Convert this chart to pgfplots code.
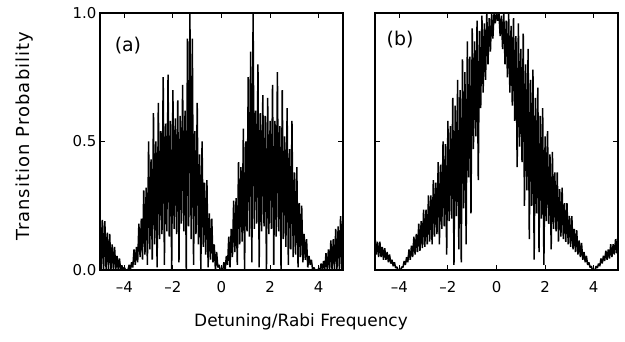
\documentclass[border=0pt]{standalone}
\usepackage{pgfplots}
\pgfplotsset{compat=1.18}
\usepackage{fontspec}
\setmainfont{DejaVu Sans}
\newfontfamily\ylabfont[LetterSpace=6]{DejaVu Sans}
\begin{document}
\begin{tikzpicture}
\useasboundingbox (0bp,0bp) rectangle (625bp,342bp);
\pgfplotsset{
 panel/.style={
  width=243bp, height=257bp, scale only axis,
  xmin=-5, xmax=5, ymin=0, ymax=1,
  xtick={-4,-2,0,2,4}, xticklabels={–4,–2,0,2,4},
  ytick={0,0.5,1},
  tick align=inside, major tick length=5bp,
  axis line style={line width=1.4bp},
  major tick style={black, line width=1.1bp},
  tick label style={font=\fontsize{15}{15}\selectfont},
  xticklabel style={yshift=-8bp},
  /pgf/number format/assume math mode=true,
 }
}
\begin{axis}[panel, at={(100bp,72bp)}, anchor=south west, yticklabels={0.0,0.5,1.0}]
\addplot[black, line width=1.5bp, line join=bevel] coordinates {
(-5.00,0.24) (-4.95,0) (-4.90,0.195) (-4.85,0) (-4.80,0.19) (-4.75,0) (-4.70,0.145) (-4.65,0) (-4.60,0.14) (-4.55,0) (-4.50,0.10) (-4.45,0) (-4.40,0.09) (-4.35,0) (-4.30,0.055) (-4.25,0) (-4.20,0.045) (-4.15,0) (-4.10,0.018) (-4.05,0) (-4.00,0.01) (-3.95,0) (-3.90,0) (-3.85,0) (-3.80,0.02) (-3.75,0) (-3.70,0.03) (-3.65,0.01) (-3.60,0.08) (-3.55,0.02) (-3.50,0.09) (-3.45,0.03) (-3.40,0.18) (-3.35,0.05) (-3.30,0.2) (-3.25,0.04) (-3.20,0.31) (-3.15,0.06) (-3.10,0.32) (-3.05,0.02) (-3.00,0.5) (-2.95,0.08) (-2.90,0.43) (-2.85,0.04) (-2.80,0.61) (-2.75,0.1) (-2.70,0.5) (-2.65,0.01) (-2.60,0.65) (-2.55,0.12) (-2.50,0.54) (-2.45,0.14) (-2.40,0.75) (-2.35,0.02) (-2.30,0.57) (-2.25,0.15) (-2.20,0.76) (-2.15,0.13) (-2.10,0.58) (-2.05,0) (-2.00,0.7) (-1.95,0.16) (-1.90,0.59) (-1.85,0.14) (-1.80,0.66) (-1.75,0.03) (-1.70,0.6) (-1.65,0.18) (-1.60,0.72) (-1.55,0.15) (-1.50,0.62) (-1.45,0) (-1.40,0.9) (-1.35,0.17) (-1.30,1.0) (-1.25,0.12) (-1.20,0.9) (-1.15,0.02) (-1.10,0.54) (-1.05,0.14) (-1.00,0.65) (-0.95,0.1) (-0.90,0.45) (-0.85,0) (-0.80,0.5) (-0.75,0.09) (-0.70,0.34) (-0.65,0.06) (-0.60,0.35) (-0.55,0.01) (-0.50,0.22) (-0.45,0.04) (-0.40,0.2) (-0.35,0.03) (-0.30,0.1) (-0.25,0) (-0.20,0.07) (-0.15,0.01) (-0.10,0.02) (-0.05,0) (0.00,0)
(0.05,0) (0.10,0.03) (0.15,0) (0.20,0.055) (0.25,0.02) (0.30,0.13) (0.35,0.01) (0.40,0.16) (0.45,0.05) (0.50,0.27) (0.55,0.07) (0.60,0.28) (0.65,0.02) (0.70,0.42) (0.75,0.1) (0.80,0.4) (0.85,0.11) (0.90,0.55) (0.95,0) (1.00,0.5) (1.05,0.15) (1.10,0.75) (1.15,0.13) (1.20,0.85) (1.25,0.03) (1.30,1.0) (1.35,0.16) (1.40,0.62) (1.45,0.18) (1.50,0.8) (1.55,0.01) (1.60,0.61) (1.65,0.15) (1.70,0.68) (1.75,0.17) (1.80,0.6) (1.85,0) (1.90,0.67) (1.95,0.14) (2.00,0.58) (2.05,0.16) (2.10,0.72) (2.15,0.02) (2.20,0.58) (2.25,0.13) (2.30,0.77) (2.35,0.15) (2.40,0.56) (2.45,0) (2.50,0.7) (2.55,0.12) (2.60,0.52) (2.65,0.09) (2.70,0.63) (2.75,0.02) (2.80,0.47) (2.85,0.08) (2.90,0.58) (2.95,0.05) (3.00,0.38) (3.05,0.06) (3.10,0.4) (3.15,0.01) (3.20,0.26) (3.25,0.05) (3.30,0.25) (3.35,0.03) (3.40,0.14) (3.45,0.04) (3.50,0.12) (3.55,0.01) (3.60,0.055) (3.65,0.02) (3.70,0.04) (3.75,0) (3.80,0.01) (3.85,0) (3.90,0) (3.95,0) (4.00,0.005) (4.05,0) (4.10,0.025) (4.15,0) (4.20,0.035) (4.25,0) (4.30,0.065) (4.35,0) (4.40,0.08) (4.45,0) (4.50,0.115) (4.55,0) (4.60,0.12) (4.65,0) (4.70,0.16) (4.75,0) (4.80,0.17) (4.85,0) (4.90,0.21) (4.95,0) (5.00,0.24)
};
\node[font=\fontsize{19}{19}\selectfont] at (axis cs:-3.85,0.875) {(a)};
\end{axis}
\begin{axis}[panel, at={(375bp,72bp)}, anchor=south west, yticklabels={}]
\addplot[black, line width=1.5bp, line join=bevel] coordinates {
(-5.00,0.13) (-4.95,0.06) (-4.90,0.11) (-4.85,0.05) (-4.80,0.11) (-4.75,0.05) (-4.70,0.09) (-4.65,0.04) (-4.60,0.085) (-4.55,0.04) (-4.50,0.07) (-4.45,0.03) (-4.40,0.06) (-4.35,0.025) (-4.30,0.04) (-4.25,0.015) (-4.20,0.03) (-4.15,0.008) (-4.10,0.012) (-4.05,0) (-4.00,0) (-3.95,0) (-3.90,0.012) (-3.85,0.01) (-3.80,0.035) (-3.75,0.02) (-3.70,0.05) (-3.65,0.03) (-3.60,0.08) (-3.55,0.04) (-3.50,0.095) (-3.45,0.05) (-3.40,0.13) (-3.35,0.06) (-3.30,0.14) (-3.25,0.07) (-3.20,0.18) (-3.15,0.075) (-3.10,0.19) (-3.05,0.085) (-3.00,0.235) (-2.95,0.09) (-2.90,0.235) (-2.85,0.1) (-2.80,0.29) (-2.75,0.11) (-2.70,0.29) (-2.65,0.1) (-2.60,0.35) (-2.55,0.13) (-2.50,0.34) (-2.45,0.14) (-2.40,0.42) (-2.35,0.1) (-2.30,0.41) (-2.25,0.16) (-2.20,0.5) (-2.15,0.17) (-2.10,0.49) (-2.05,0.06) (-2.00,0.58) (-1.95,0.19) (-1.90,0.56) (-1.85,0.2) (-1.80,0.67) (-1.75,0.02) (-1.70,0.64) (-1.65,0.21) (-1.60,0.74) (-1.55,0.08) (-1.50,0.7) (-1.45,0.03) (-1.40,0.82) (-1.35,0.24) (-1.30,0.77) (-1.25,0.1) (-1.20,0.89) (-1.15,0.36) (-1.10,0.83) (-1.05,0.22) (-1.00,0.94) (-0.95,0.47) (-0.90,0.89) (-0.85,0.52) (-0.80,0.97) (-0.75,0.35) (-0.70,0.93) (-0.65,0.63) (-0.60,0.99) (-0.55,0.69) (-0.50,0.96) (-0.45,0.74) (-0.40,1.0) (-0.35,0.8) (-0.30,0.98) (-0.25,0.85) (-0.20,1.0) (-0.15,0.9) (-0.10,1.0) (-0.05,0.96) (0.00,1.0)
(0.05,0.97) (0.10,1.0) (0.15,0.91) (0.20,0.99) (0.25,0.86) (0.30,1.0) (0.35,0.8) (0.40,0.97) (0.45,0.75) (0.50,1.0) (0.55,0.69) (0.60,0.95) (0.65,0.64) (0.70,0.98) (0.75,0.58) (0.80,0.91) (0.85,0.4) (0.90,0.96) (0.95,0.48) (1.00,0.86) (1.05,0.42) (1.10,0.92) (1.15,0.25) (1.20,0.8) (1.25,0.31) (1.30,0.86) (1.35,0.12) (1.40,0.74) (1.45,0.25) (1.50,0.78) (1.55,0.04) (1.60,0.67) (1.65,0.22) (1.70,0.71) (1.75,0.07) (1.80,0.6) (1.85,0.2) (1.90,0.63) (1.95,0.02) (2.00,0.52) (2.05,0.19) (2.10,0.54) (2.15,0.18) (2.20,0.45) (2.25,0.08) (2.30,0.46) (2.35,0.16) (2.40,0.38) (2.45,0.15) (2.50,0.38) (2.55,0.11) (2.60,0.315) (2.65,0.13) (2.70,0.32) (2.75,0.12) (2.80,0.26) (2.85,0.11) (2.90,0.26) (2.95,0.1) (3.00,0.21) (3.05,0.09) (3.10,0.21) (3.15,0.08) (3.20,0.16) (3.25,0.07) (3.30,0.155) (3.35,0.06) (3.40,0.115) (3.45,0.05) (3.50,0.105) (3.55,0.04) (3.60,0.07) (3.65,0.03) (3.70,0.055) (3.75,0.02) (3.80,0.03) (3.85,0.01) (3.90,0.015) (3.95,0) (4.00,0) (4.05,0) (4.10,0.015) (4.15,0.008) (4.20,0.025) (4.25,0.015) (4.30,0.045) (4.35,0.025) (4.40,0.055) (4.45,0.035) (4.50,0.075) (4.55,0.04) (4.60,0.08) (4.65,0.045) (4.70,0.1) (4.75,0.05) (4.80,0.1) (4.85,0.06) (4.90,0.12) (4.95,0.065) (5.00,0.14)
};
\node[font=\fontsize{19}{19}\selectfont] at (axis cs:-3.97,0.895) {(b)};
\end{axis}
\node[font=\fontsize{17}{17}\selectfont] at (301bp,20bp) {Detuning/Rabi Frequency};
\node[rotate=90, font=\ylabfont\fontsize{18}{18}\selectfont] at (25bp,206bp) {Transition Probability};
\end{tikzpicture}
\end{document}
